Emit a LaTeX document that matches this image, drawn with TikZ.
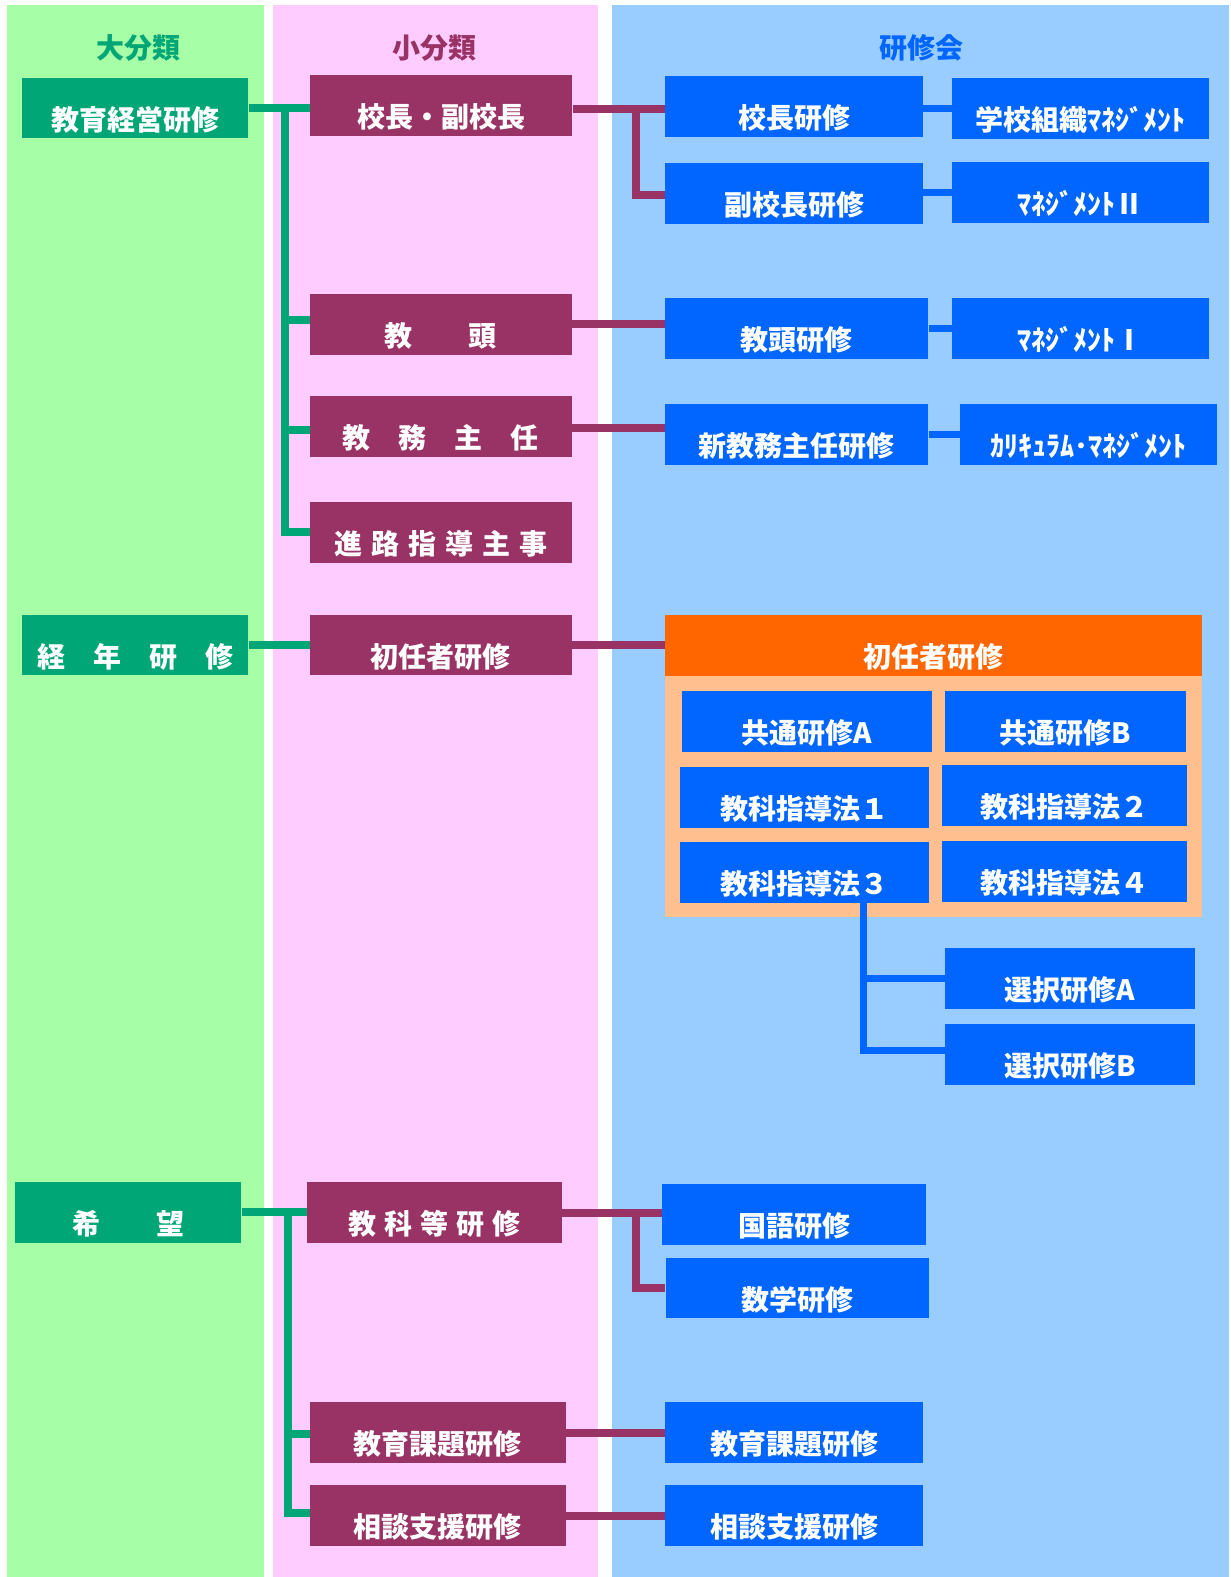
\documentclass[tikz,border=0pt]{standalone}
\usepackage{fontspec}
\setmainfont{Noto Sans CJK JP}
\definecolor{bggreen}{RGB}{166,255,166}
\definecolor{bgpink}{RGB}{255,204,255}
\definecolor{bgblue}{RGB}{153,204,255}
\definecolor{cg}{RGB}{0,166,118}
\definecolor{cm}{RGB}{153,51,102}
\definecolor{cb}{RGB}{0,102,255}
\definecolor{corange}{RGB}{255,102,0}
\definecolor{cpeach}{RGB}{255,191,143}
\tikzset{
  box/.style={rectangle, inner sep=0pt, text=white,
    font=\bfseries\fontsize{28}{28}\selectfont,
    text height=52.5pt, text depth=8pt, anchor=center, minimum width=#1},
  gbox/.style={box=#1, fill=cg},
  mbox/.style={box=#1, fill=cm},
  bbox/.style={box=#1, fill=cb},
  obox/.style={box=#1, fill=corange},
  head/.style={font=\bfseries\fontsize{28}{28}\selectfont, inner sep=0pt},
  gline/.style={draw=cg, line width=8pt, line join=miter},
  mline/.style={draw=cm, line width=8pt, line join=miter},
  bline/.style={draw=cb, line width=7.5pt, line join=miter},
}
\begin{document}
\begin{tikzpicture}[x=1pt,y=-1pt]
\useasboundingbox (0,0) rectangle (1231,1577);
\fill[white] (0,0) rectangle (1231,1577);
% columns
\fill[bggreen] (7,5) rectangle (264,1577);
\fill[bgpink] (272.5,5) rectangle (597.5,1577);
\fill[bgblue] (612,5) rectangle (1229,1577);
% headers
\node[head, text=cg] (h1) at (138.8,48) {大分類};
\node[head, text=cm] (h2) at (434.5,48) {小分類};
\node[head, text=cb] (h3) at (921,48) {研修会};
% green boxes
\node[gbox=226.5pt] (g1) at (135.2,108) {教育経営研修};
\node[gbox=226.5pt] (g2) at (135.2,645) {経　年　研　修};
\node[gbox=226.5pt] (g3) at (128.2,1212.3) {希　　望};
% maroon boxes
\node[mbox=262.2pt] (p1) at (441.2,105.3) {校長・副校長};
\node[mbox=261.7pt] (p2) at (440.8,324.4) {教　　頭};
\node[mbox=261.7pt] (p3) at (440.8,426.5) {教　務　主　任};
\node[mbox=261.7pt] (p4) at (440.8,532.3) {進\hspace{9pt}路\hspace{9pt}指\hspace{9pt}導\hspace{9pt}主\hspace{9pt}事};
\node[mbox=261.7pt] (p5) at (440.8,645) {初任者研修};
\node[mbox=255.3pt] (p6) at (434.6,1212.5) {教\hspace{8pt}科\hspace{8pt}等\hspace{8pt}研\hspace{8pt}修};
\node[mbox=256.2pt] (p7) at (437.9,1432.5) {教育課題研修};
\node[mbox=256.2pt] (p8) at (437.9,1515.5) {相談支援研修};
% blue boxes
\node[bbox=258pt] (b1) at (794,106.3) {校長研修};
\node[bbox=257.5pt] (b2) at (1080.7,108.7) {学校組織ﾏﾈｼﾞﾒﾝﾄ};
\node[bbox=258pt] (b3) at (794,193.3) {副校長研修};
\node[bbox=257.5pt] (b4) at (1080.7,192.5) {ﾏﾈｼﾞﾒﾝﾄⅡ};
\node[bbox=263.5pt] (b5) at (796.7,328.7) {教頭研修};
\node[bbox=257.5pt] (b6) at (1080.7,328.7) {ﾏﾈｼﾞﾒﾝﾄⅠ};
\node[bbox=263.5pt] (b7) at (796.7,434.3) {新教務主任研修};
\node[bbox=257.5pt] (b8) at (1088.7,434.3) {ｶﾘｷｭﾗﾑ･ﾏﾈｼﾞﾒﾝﾄ};
% first-year block
\node[fill=cpeach, inner sep=0pt, minimum width=536.6pt, minimum height=241.3pt] (body) at (933.3,796.65) {};
\node[obox=536.6pt] (o1) at (933.3,645.5) {初任者研修};
\node[bbox=250.3pt] (c1) at (807,721.3) {共通研修A};
\node[bbox=241.2pt] (c2) at (1065.6,721.3) {共通研修B};
\node[bbox=249.5pt] (c3) at (804.7,797.5) {教科指導法１};
\node[bbox=245pt] (c4) at (1064.5,795.3) {教科指導法２};
\node[bbox=249.5pt] (c5) at (804.7,872.5) {教科指導法３};
\node[bbox=245pt] (c6) at (1064.5,871.3) {教科指導法４};
\node[bbox=249.8pt] (s1) at (1069.9,978.5) {選択研修A};
\node[bbox=249.8pt] (s2) at (1069.9,1054.3) {選択研修B};
% lower blue boxes
\node[bbox=264.3pt] (k1) at (794.1,1214.5) {国語研修};
\node[bbox=263.8pt] (k2) at (797.4,1288) {数学研修};
\node[bbox=257.6pt] (k3) at (794,1432.5) {教育課題研修};
\node[bbox=257.6pt] (k4) at (794,1515.5) {相談支援研修};
% trunk coordinates
\coordinate (gt) at (285.3,0);
\coordinate (gt2) at (288.4,0);
\coordinate (mt) at (636,0);
\coordinate (mt2) at (636.4,0);
\coordinate (bt) at (863.5,0);
% green connectors
\draw[gline] (g1.east) -- (g1.east -| p1.west);
\draw[gline] (g1.east -| gt) -- (p4.west -| gt) -- (p4.west);
\draw[gline] ([yshift=4pt]p2.west -| gt) -- ([yshift=4pt]p2.west);
\draw[gline] ([yshift=-3pt]p3.west -| gt) -- ([yshift=-3pt]p3.west);
\draw[gline] (g2.east) -- (g2.east -| p5.west);
\draw[gline] (g3.east) -- (g3.east -| p6.west);
\draw[gline] (g3.east -| gt2) -- ([yshift=2.5pt]p8.west -| gt2) -- ([yshift=2.5pt]p8.west);
\draw[gline] ([yshift=-1.5pt]p7.west -| gt2) -- ([yshift=-1.5pt]p7.west);
% maroon connectors
\draw[mline] ([yshift=-3.4pt]p1.east) -- ([yshift=-3.4pt]p1.east -| b1.west);
\draw[mline] ([yshift=-3.4pt]p1.east -| mt) -- ([yshift=-1.7pt]b3.west -| mt) -- ([yshift=-1.7pt]b3.west);
\draw[mline] (p2.east) -- (p2.east -| b5.west);
\draw[mline] ([yshift=-1.5pt]p3.east) -- ([yshift=-1.5pt]p3.east -| b7.west);
\draw[mline] (p5.east) -- (p5.east -| o1.west);
\draw[mline] (p6.east) -- (p6.east -| k1.west);
\draw[mline] (p6.east -| mt2) -- (k2.west -| mt2) -- (k2.west);
\draw[mline] (p7.east) -- (p7.east -| k3.west);
\draw[mline] (p8.east) -- (p8.east -| k4.west);
% blue connectors
\draw[bline] (b2.west -| b1.east) -- (b2.west);
\draw[bline] (b4.west -| b3.east) -- (b4.west);
\draw[bline] (b6.west -| b5.east) -- (b6.west);
\draw[bline] (b8.west -| b7.east) -- (b8.west);
\draw[bline] (c5.south -| bt) -- ([yshift=4pt]s2.west -| bt) -- ([yshift=4pt]s2.west);
\draw[bline] (s1.west -| bt) -- (s1.west);
\end{tikzpicture}
\end{document}
